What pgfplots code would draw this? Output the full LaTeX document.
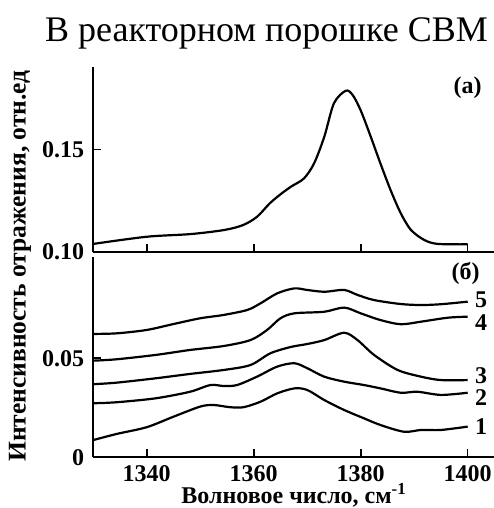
\documentclass[border=0pt]{standalone}
\usepackage{fontspec}
\setmainfont{Liberation Serif}
\usepackage{pgfplots}
\pgfplotsset{compat=1.18}
\newcommand\lab{\bfseries\fontsize{24}{28}\selectfont}
\pgfplotsset{
  curve/.style={black, line width=2.2pt, smooth, mark=none},
  common/.style={
    scale only axis, width=401.25pt, xmin=1330, xmax=1405,
    axis x line=bottom, axis y line=left,
    axis line style={-, line width=1.8pt, black},
    tick align=inside, major tick length=8pt,
    tick style={line width=1.6pt, black},
    xtick={1340,1360,1380,1400},
    tick label style={font=\lab},
    yticklabel style={inner sep=0pt, anchor=east},
    yticklabel shift=9pt,
    xticklabel style={inner sep=0pt, anchor=north},
    xticklabel shift=7.7pt,
    clip=false,
  }
}
\begin{document}
\begin{tikzpicture}
\useasboundingbox (0pt,0pt) rectangle (494pt,508pt);
\clip (0pt,0pt) rectangle (494pt,508pt);
\node[anchor=base west, inner sep=0pt, font=\fontsize{36}{40}\selectfont] at (45pt,466pt) {В реакторном порошке СВМ};
\node[rotate=90, font=\bfseries\fontsize{25.5}{28}\selectfont, inner sep=0pt] at (20pt,242pt) {Интенсивность отражения, отн.ед};

% top panel (a)
\begin{axis}[common, at={(93.2pt,256.3pt)}, anchor=south west,
  height=184.3pt, ymin=0.10, ymax=0.19,
  ytick={0.10,0.15}, yticklabels={0.10,0.15}, xticklabels={}]
\addplot[curve] coordinates {
(1330,0.1038) (1340,0.1073) (1348.2,0.1086) (1354.5,0.1106) (1358,0.1130)
(1360.6,0.1170) (1363,0.1236) (1365,0.1280) (1367,0.1318) (1369.4,0.1358)
(1371.3,0.1432) (1373.2,0.1562) (1375,0.1725) (1377.2,0.1786) (1378.5,0.1765)
(1380,0.1690) (1381.9,0.1560) (1383.7,0.1430) (1385.6,0.1300) (1387.5,0.1187)
(1389.4,0.1106) (1391.9,0.1057) (1394.4,0.1038) (1400,0.1036)};
\node[font=\lab] at (axis cs:1400,0.180) {(a)};
\end{axis}

% bottom panel (б)
\begin{axis}[common, at={(93.2pt,50.7pt)}, anchor=south west,
  height=200pt, ymin=0, ymax=0.101,
  ytick={0,0.05}, yticklabels={0,0.05},
  xticklabels={1340,1360,1380,1400},
  xlabel={Волновое число, см\textsuperscript{-1}},
  xlabel style={font=\lab, at={(axis description cs:0.5,0)}, anchor=base, yshift=-46pt, inner sep=0pt}]
% 5
\addplot[curve] coordinates {
(1330,0.0623) (1334.4,0.0626) (1340,0.0643) (1345,0.0673) (1350,0.0702)
(1354.4,0.0719) (1358.8,0.0744) (1361.3,0.0778) (1364.4,0.0828) (1367.6,0.0853)
(1370,0.0845) (1373.2,0.0836) (1376.9,0.0845) (1379.4,0.0820) (1382.5,0.0794)
(1387.5,0.0774) (1391.3,0.0769) (1395,0.0773) (1400,0.0786)};
% 4
\addplot[curve] coordinates {
(1330,0.0488) (1334.4,0.0495) (1341.7,0.0517) (1348.1,0.0542) (1354.4,0.0562)
(1359.4,0.0592) (1362.5,0.0643) (1365,0.0702) (1367.6,0.0727) (1373.2,0.0735)
(1376.9,0.0756) (1380,0.0727) (1383.7,0.0693) (1387.5,0.0672) (1391.3,0.0685)
(1396.3,0.0705) (1400,0.0710)};
% 3
\addplot[curve] coordinates {
(1330,0.0369) (1334.4,0.0377) (1341.7,0.0399) (1348.1,0.0421) (1354.4,0.0441)
(1359.4,0.0466) (1363.1,0.0525) (1366.9,0.0557) (1370,0.0572) (1373.2,0.0592)
(1376.9,0.0629) (1379.4,0.0592) (1382.5,0.0517) (1386.9,0.0441) (1391.3,0.0407)
(1395,0.0390) (1400,0.0390)};
% 2
\addplot[curve] coordinates {
(1330,0.0273) (1334.4,0.0278) (1341.7,0.0298) (1348.1,0.0331) (1351.9,0.0365)
(1354.4,0.0360) (1356.9,0.0365) (1360.6,0.0407) (1364.4,0.0458) (1367.6,0.0475)
(1370,0.0450) (1373.2,0.0407) (1376.9,0.0382) (1380.6,0.0365) (1383.7,0.0348)
(1387.5,0.0326) (1390.6,0.0331) (1395,0.0315) (1400,0.0326)};
% 1
\addplot[curve] coordinates {
(1330,0.0087) (1334.4,0.0118) (1340,0.0152) (1345,0.0205) (1350,0.0256)
(1352.5,0.0264) (1355.6,0.0253) (1358.1,0.0253) (1361.3,0.0281) (1364.4,0.0323)
(1367.6,0.0348) (1370,0.0340) (1373.2,0.0289) (1376.9,0.0239) (1380.6,0.0197)
(1383.7,0.0163) (1388.1,0.0129) (1391.3,0.0138) (1395,0.0138) (1400,0.0155)};
\node[font=\lab] at (axis cs:1399.6,0.093) {(б)};
\node[font=\lab] at (axis cs:1402.5,0.0795) {5};
\node[font=\lab] at (axis cs:1402.5,0.0678) {4};
\node[font=\lab] at (axis cs:1402.5,0.0410) {3};
\node[font=\lab] at (axis cs:1402.5,0.0300) {2};
\node[font=\lab] at (axis cs:1402.5,0.0153) {1};
\end{axis}
\end{tikzpicture}
\end{document}
